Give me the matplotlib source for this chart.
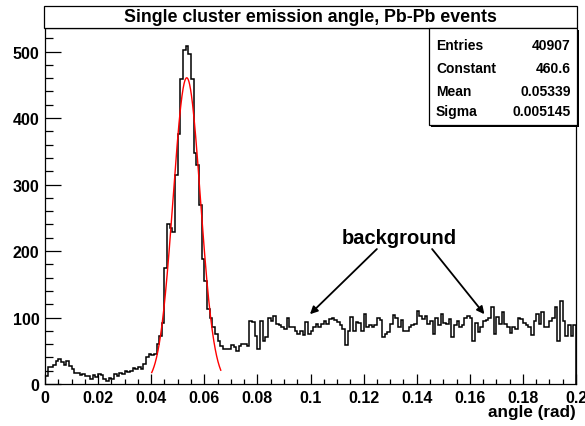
import numpy as np
import matplotlib
matplotlib.use("Agg")
import matplotlib.pyplot as plt
from matplotlib.patches import Rectangle

plt.rcParams['font.family'] = ['Liberation Sans', 'DejaVu Sans']
plt.rcParams['font.weight'] = 'bold'

# ---- data -------------------------------------------------------------
bin_edges_range = (0.0, 0.2)
n_bins = 200
counts = [
    12, 25, 26, 28, 35, 37, 33, 28, 34, 27,
    22, 17, 16, 13, 15, 12, 12, 8, 14, 10,
    15, 14, 7, 5, 9, 8, 15, 12, 17, 15,
    20, 18, 20, 24, 23, 26, 22, 30, 40, 45,
    43, 45, 60, 72, 92, 174, 240, 235, 228, 315,
    376, 458, 502, 509, 497, 459, 348, 330, 269, 188,
    155, 113, 100, 85, 75, 65, 57, 52, 53, 52,
    58, 56, 50, 57, 60, 60, 57, 95, 93, 72,
    52, 95, 65, 70, 100, 95, 103, 90, 88, 85,
    82, 100, 85, 85, 80, 75, 80, 73, 93, 75,
    80, 85, 90, 85, 90, 95, 90, 98, 100, 96,
    93, 88, 82, 58, 80, 101, 80, 93, 92, 80,
    106, 85, 88, 85, 88, 100, 96, 70, 75, 78,
    90, 104, 100, 85, 96, 80, 80, 85, 88, 90,
    110, 102, 98, 102, 90, 95, 75, 100, 88, 106,
    92, 90, 98, 70, 88, 95, 85, 88, 100, 103,
    100, 65, 91, 78, 85, 95, 96, 100, 116, 75,
    101, 90, 108, 90, 85, 76, 86, 83, 100, 98,
    91, 88, 85, 74, 95, 106, 90, 108, 85, 86,
    95, 100, 116, 64, 125, 95, 72, 89, 72, 89,
]

fit_constant = 460.6
fit_mean = 0.05339
fit_sigma = 0.005145
fit_range = (0.0402, 0.0662)

stats_labels = ["Entries", "Constant", "Mean", "Sigma"]
stats_values = ["40907", "460.6", "0.05339", "0.005145"]

x_tick_values = [0, 0.02, 0.04, 0.06, 0.08, 0.1, 0.12, 0.14, 0.16, 0.18, 0.2]
x_tick_labels = ["0", "0.02", "0.04", "0.06", "0.08", "0.1", "0.12",
                 "0.14", "0.16", "0.18", "0.2"]
y_tick_values = [0, 100, 200, 300, 400, 500]

title = "Single cluster emission angle, Pb-Pb events"
xlabel = "angle (rad)"
annotation_text = "background"
arrow_tails = [(0.1250, 203), (0.1458, 203)]
arrow_heads = [(0.0998, 105), (0.1655, 105)]
text_pos = (0.1333, 221)

# ---- figure -----------------------------------------------------------
W, H = 585, 427
fig = plt.figure(figsize=(W / 100, H / 100), dpi=100)

def fx(px):
    return px / W

def fy(py):
    return 1 - py / H

ax_l, ax_r, ax_t, ax_b = 45, 576, 29.3, 385
ax = fig.add_axes([fx(ax_l), fy(ax_b), fx(ax_r - ax_l), (ax_b - ax_t) / H])

edges = np.linspace(bin_edges_range[0], bin_edges_range[1], n_bins + 1)
ax.stairs(counts, edges, color='black', lw=1.1, baseline=0)

xs = np.linspace(fit_range[0], fit_range[1], 300)
ax.plot(xs, fit_constant * np.exp(-0.5 * ((xs - fit_mean) / fit_sigma) ** 2),
        color='red', lw=1.0)

ax.set_xlim(0, 0.2)
ax.set_ylim(0, 535)
ax.set_xticks(x_tick_values)
ax.set_xticks(np.arange(0, 0.2001, 0.005), minor=True)
ax.set_yticks(y_tick_values)
ax.set_yticks(np.arange(0, 535, 20), minor=True)
ax.set_xticklabels(x_tick_labels)
ax.tick_params(direction='in', which='both', top=False, right=False,
               labelsize=11.5, width=0.9)
ax.tick_params(axis='y', which='major', length=11.5, pad=4)
ax.tick_params(axis='y', which='minor', length=5.8)
ax.tick_params(axis='x', which='major', length=7.2, pad=4)
ax.tick_params(axis='x', which='minor', length=3.6)
for lab in ax.get_xticklabels() + ax.get_yticklabels():
    lab.set_fontweight('bold')
for s in ax.spines.values():
    s.set_linewidth(0.9)

fig.text(fx(576), fy(412.5), xlabel, ha='right', va='center', fontsize=12.3,
         fontweight='bold')

# annotation
ax.text(text_pos[0], text_pos[1], annotation_text, ha='center', va='center',
        fontsize=14.5, fontweight='bold')
for tail, head in zip(arrow_tails, arrow_heads):
    ax.annotate('', xy=head, xytext=tail,
                arrowprops=dict(arrowstyle='-|>', color='black', lw=1.3,
                                mutation_scale=11, shrinkA=0, shrinkB=0))

# title box
tb_l, tb_r, tb_t, tb_b = 44, 577, 6.7, 29.3
fig.patches.append(Rectangle((fx(tb_l), fy(tb_b)), fx(tb_r - tb_l), (tb_b - tb_t) / H,
                             transform=fig.transFigure, facecolor='white',
                             edgecolor='black', lw=0.9, zorder=5))
fig.text(fx((tb_l + tb_r) / 2), fy((tb_t + tb_b) / 2), title, ha='center',
         va='center', fontsize=12.8, fontweight='bold', zorder=6)

# stats box
sb_l, sb_r, sb_t, sb_b = 429, 577, 29.3, 125.6
fig.patches.append(Rectangle((fx(sb_l + 2), fy(sb_b + 2)), fx(sb_r - sb_l), (sb_b - sb_t) / H,
                             transform=fig.transFigure, facecolor='black',
                             edgecolor='none', zorder=5))
fig.patches.append(Rectangle((fx(sb_l), fy(sb_b)), fx(sb_r - sb_l), (sb_b - sb_t) / H,
                             transform=fig.transFigure, facecolor='white',
                             edgecolor='black', lw=0.9, zorder=6))
row_y = [45.7, 68.6, 92.0, 112.5]
for lab, val, ry in zip(stats_labels, stats_values, row_y):
    fig.text(fx(436), fy(ry), lab, ha='left', va='center', fontsize=10,
             fontweight='bold', zorder=7)
    fig.text(fx(571), fy(ry), val, ha='right', va='center', fontsize=10,
             fontweight='bold', zorder=7)

fig.savefig("out.png", dpi=100)
